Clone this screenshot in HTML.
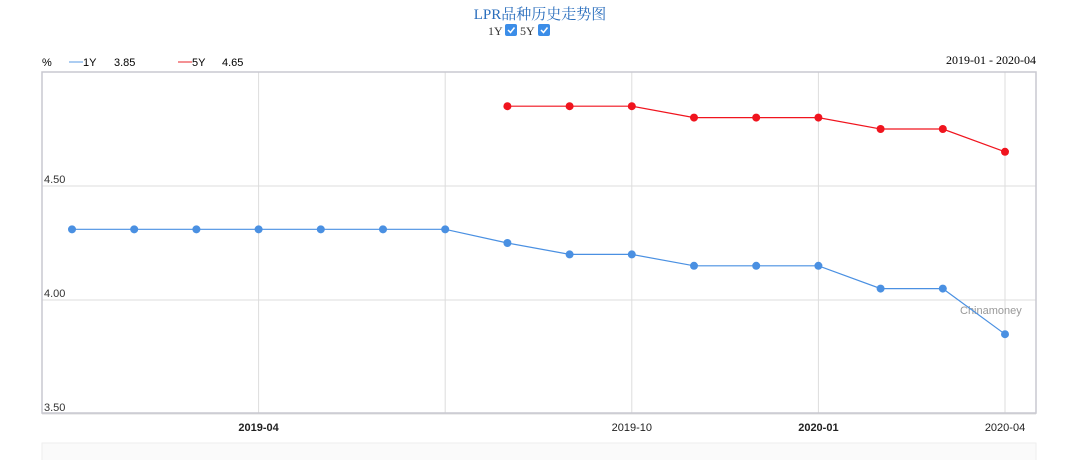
<!DOCTYPE html>
<html><head><meta charset="utf-8"><style>
body{margin:0;width:1080px;height:460px;background:#fff;overflow:hidden;font-family:"Liberation Sans","Noto Sans CJK SC",sans-serif}
</style></head><body>
<svg width="1080" height="460">
<text x="540" y="19" text-anchor="middle" font-family="Liberation Serif,Noto Serif CJK SC,serif" font-size="15" fill="#2a6ebd">LPR品种历史走势图</text>
<g>
<text x="488" y="35" font-family="Liberation Serif,serif" font-size="12" fill="#333">1Y</text>
<rect x="505" y="24" width="12" height="12" rx="2" fill="#3b8de8"/>
<path d="M508 30l2.5 2.5 4-5" stroke="#fff" stroke-width="1.5" fill="none"/>
<text x="520" y="35" font-family="Liberation Serif,serif" font-size="12" fill="#333">5Y</text>
<rect x="538" y="24" width="12" height="12" rx="2" fill="#3b8de8"/>
<path d="M541 30l2.5 2.5 4-5" stroke="#fff" stroke-width="1.5" fill="none"/>
</g>
<g font-size="11" fill="#000">
<text x="42" y="66">%</text>
<line x1="69" y1="62" x2="83" y2="62" stroke="#5a9be6"/>
<text x="83" y="66">1Y</text><text x="114" y="66">3.85</text>
<line x1="178" y1="62" x2="192" y2="62" stroke="#e8232a"/>
<text x="192" y="66">5Y</text><text x="222" y="66">4.65</text>
</g>
<text x="1036" y="64" text-anchor="end" font-family="Liberation Serif,serif" font-size="12" fill="#000">2019-01 - 2020-04</text>
<g id="grid"></g>
<rect x="42" y="72" width="994" height="341" fill="none" stroke="#c8c8d0" stroke-width="1.5"/>
<text x="960" y="314" font-size="11" fill="#999">Chinamoney</text>
<g id="series"></g>
<g id="xlabels" font-size="11"></g>
<rect x="42" y="443" width="994" height="20" fill="#fafafa" stroke="#eee"/>
</svg>
<script>
const months=["2019-01","2019-02","2019-03","2019-04","2019-05","2019-06","2019-07","2019-08","2019-09","2019-10","2019-11","2019-12","2020-01","2020-02","2020-03","2020-04"];
const y1Values=[4.31,4.31,4.31,4.31,4.31,4.31,4.31,4.25,4.20,4.20,4.15,4.15,4.15,4.05,4.05,3.85];
const y5Values=[null,null,null,null,null,null,null,4.85,4.85,4.85,4.80,4.80,4.80,4.75,4.75,4.65];
const yTicks=[3.5,4.0,4.5];
const xTicks=[{i:3,label:"2019-04",bold:true},{i:6,label:"",bold:false},{i:9,label:"2019-10",bold:false},{i:12,label:"2020-01",bold:true},{i:15,label:"2020-04",bold:false}];
const NS="http://www.w3.org/2000/svg";
const X=i=>72+(1005-72)/(months.length-1)*i;
const Y=v=>300-(v-4.0)*228;
function mk(t,a,p){const e=document.createElementNS(NS,t);for(const k in a)e.setAttribute(k,a[k]);p.appendChild(e);return e;}
const grid=document.getElementById('grid'),ser=document.getElementById('series'),xl=document.getElementById('xlabels');
yTicks.forEach(v=>{
 const l=mk('line',{x1:42,x2:1036,y1:Y(v),y2:Y(v),stroke:'#ddd'},grid);
 
 
 const t=mk('text',{x:44,y:Y(v)-3,'font-size':11,fill:'#333'},grid);t.textContent=v.toFixed(2);
 
 
});
xTicks.forEach(d=>{
 const l=mk('line',{x1:X(d.i),x2:X(d.i),y1:72,y2:413,stroke:'#ddd'},grid);
 
 
 const t=mk('text',{x:X(d.i),y:431,'text-anchor':'middle','font-weight':d.bold?'bold':'normal',fill:'#222'},xl);t.textContent=d.label;
 
 
});
function draw(vals,color,name){
 const pts=[];vals.forEach((v,i)=>{if(v!=null)pts.push([X(i),Y(v)]);});
 const p=mk('polyline',{points:pts.map(p=>p.join(',')).join(' '),fill:'none',stroke:color,'stroke-width':1.2},ser);
 
 
 pts.forEach(q=>{const c=mk('circle',{cx:q[0],cy:q[1],r:4,fill:color},ser);
 
 });
}
draw(y1Values,'#4a90e2','1y');
draw(y5Values,'#f0141e','5y');
</script>
</body></html>
